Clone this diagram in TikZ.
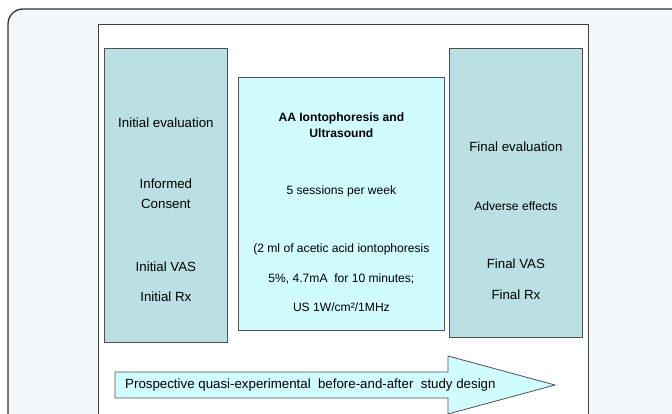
\documentclass[tikz,border=0pt]{standalone}
\usepackage{fontspec}
\setmainfont{Liberation Sans}
\usetikzlibrary{positioning}
\definecolor{framefill}{RGB}{242,247,250}
\definecolor{evalfill}{RGB}{186,224,227}
\definecolor{treatfill}{RGB}{208,252,255}
\definecolor{edgegray}{RGB}{80,80,80}

\begin{document}
\begin{tikzpicture}[x=1pt, y=-1pt,
    evalbox/.style={rectangle, draw=edgegray, fill=evalfill, line width=0.8pt, inner sep=0pt},
    treatbox/.style={rectangle, draw=edgegray, fill=treatfill, line width=0.8pt, inner sep=0pt},
    bigtxt/.style={align=center, inner sep=0pt, font=\fontsize{13.3}{20}\selectfont},
    smalltxt/.style={align=center, inner sep=0pt, font=\fontsize{12.1}{16}\selectfont}
]
\useasboundingbox (0,0) rectangle (672,414);

% Outer frame
\begin{scope}
\clip (0,0) rectangle (672,414);
\draw[draw=black!80, fill=framefill, line width=1.3pt, rounded corners=15pt] (8,9) rectangle (700,440);
\draw[draw=black!75, fill=white, line width=0.8pt] (98,24) rectangle (588,440);
\end{scope}

% Initial evaluation
\node[evalbox, minimum width=123pt, minimum height=294pt, anchor=north west] (initial) at (104,48) {};

% Treatment
\node[treatbox, minimum width=206pt, minimum height=253pt, anchor=north west] (treat) at (238,77) {};

% Final evaluation
\node[evalbox, minimum width=133pt, minimum height=289pt, anchor=north west] (final) at (449,48) {};

% Box texts
\node[bigtxt, below=70pt of initial.north] (initialtxt) {Initial evaluation\\[41pt]Informed\\Consent\\[43pt]Initial VAS\\[10pt]Initial Rx};
\node[smalltxt, below=36pt of treat.north] (treattxt) {\textbf{AA Iontophoresis and}\\\textbf{Ultrasound}\\[41pt]5 sessions per week\\[42pt](2 ml of acetic acid iontophoresis\\[14pt]5\%, 4.7mA\ \ for 10 minutes;\\[13pt]US 1W/cm²/1MHz};
\node[bigtxt, below=94pt of final.north] (finaltxt) {Final evaluation\\[39pt]{\fontsize{12.1}{16}\selectfont Adverse effects}\\[38pt]Final VAS\\[11pt]Final Rx};

% Study design arrow
\draw[draw=edgegray, fill=treatfill, line width=0.8pt]
    (115,372) -- (448,372) -- (448,356) -- (555,385) -- (448,414) -- (448,398) -- (115,398) -- cycle;
\node[bigtxt, anchor=west] (design) at (125,385) {Prospective quasi-experimental\ \ before-and-after\ \ study design};

\end{tikzpicture}
\end{document}
